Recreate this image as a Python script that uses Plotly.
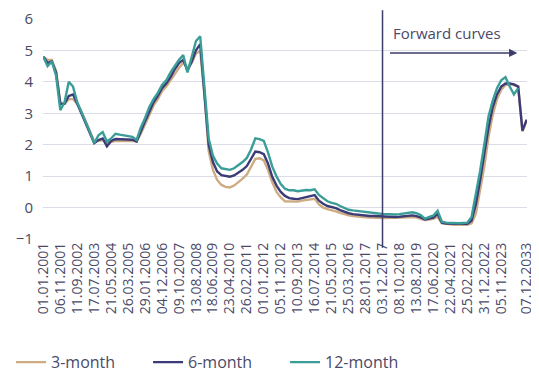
import plotly.graph_objects as go

# Tick labels (category axis labels, one every 4 samples; last one 1.5 intervals later)
TICK_LABELS = ["01.01.2001", "06.11.2001", "11.09.2002", "17.07.2003", "21.05.2004",
               "26.03.2005", "29.01.2006", "04.12.2006", "09.10.2007", "13.08.2008",
               "18.06.2009", "23.04.2010", "26.02.2011", "01.01.2012", "05.11.2012",
               "10.09.2013", "16.07.2014", "21.05.2015", "25.03.2016", "28.01.2017",
               "03.12.2017", "08.10.2018", "13.08.2019", "17.06.2020", "22.04.2021",
               "25.02.2022", "31.12.2022", "05.11.2023", "07.12.2033"]
TICK_POS = list(range(28)) + [28.5]
FORWARD_START = 20  # index of 03.12.2017

m3 = [4.80, 4.70, 4.70, 4.35, 3.35, 3.30, 3.45, 3.45, 3.30, 3.05, 2.75, 2.40, 2.10, 2.12, 2.15, 2.05,
      2.08, 2.12, 2.12, 2.12, 2.13, 2.13, 2.12, 2.35, 2.65, 2.95, 3.25, 3.45, 3.70, 3.85, 4.05, 4.25,
      4.45, 4.60, 4.45, 4.60, 4.90, 4.98, 3.60, 1.80, 1.20, 0.88, 0.72, 0.66, 0.64, 0.70, 0.80, 0.92,
      1.05, 1.30, 1.55, 1.57, 1.50, 1.20, 0.80, 0.50, 0.32, 0.20, 0.20, 0.19, 0.19, 0.22, 0.24, 0.26,
      0.28, 0.10, 0.00, -0.05, -0.08, -0.12, -0.17, -0.22, -0.25, -0.27, -0.29, -0.30, -0.31, -0.32, -0.33, -0.33,
      -0.33, -0.33, -0.33, -0.33, -0.32, -0.32, -0.31, -0.30, -0.31, -0.36, -0.40, -0.38, -0.36, -0.30, -0.50, -0.52,
      -0.54, -0.55, -0.55, -0.55, -0.55, -0.50, -0.20, 0.55, 1.30, 2.25, 2.95, 3.45, 3.75, 3.90, 3.92, 3.90,
      3.85, 2.42, 2.75]

m6 = [4.80, 4.60, 4.65, 4.30, 3.30, 3.30, 3.55, 3.60, 3.30, 3.00, 2.70, 2.35, 2.05, 2.15, 2.20, 1.95,
      2.12, 2.18, 2.18, 2.18, 2.17, 2.16, 2.10, 2.45, 2.75, 3.05, 3.35, 3.55, 3.80, 3.95, 4.15, 4.40,
      4.60, 4.70, 4.35, 4.65, 5.00, 5.20, 3.70, 2.00, 1.45, 1.15, 1.03, 1.00, 0.98, 1.02, 1.10, 1.20,
      1.32, 1.55, 1.78, 1.76, 1.70, 1.40, 0.98, 0.70, 0.50, 0.37, 0.30, 0.28, 0.27, 0.30, 0.33, 0.36,
      0.40, 0.22, 0.12, 0.05, 0.02, -0.02, -0.08, -0.14, -0.18, -0.21, -0.23, -0.25, -0.26, -0.27, -0.27, -0.28,
      -0.28, -0.29, -0.30, -0.30, -0.29, -0.28, -0.26, -0.25, -0.27, -0.31, -0.38, -0.35, -0.32, -0.20, -0.48, -0.51,
      -0.52, -0.52, -0.52, -0.52, -0.52, -0.42, 0.10, 0.85, 1.65, 2.55, 3.20, 3.60, 3.85, 3.95, 3.95, 3.92,
      3.85, 2.45, 2.80]

m12 = [4.80, 4.50, 4.65, 4.20, 3.10, 3.35, 4.00, 3.85, 3.35, 3.05, 2.75, 2.40, 2.05, 2.30, 2.40, 2.10,
       2.20, 2.35, 2.32, 2.30, 2.28, 2.25, 2.15, 2.55, 2.85, 3.20, 3.45, 3.65, 3.90, 4.05, 4.30, 4.50,
       4.70, 4.85, 4.30, 4.80, 5.30, 5.45, 3.80, 2.20, 1.65, 1.40, 1.25, 1.22, 1.20, 1.25, 1.35, 1.45,
       1.58, 1.85, 2.20, 2.18, 2.12, 1.75, 1.30, 0.99, 0.75, 0.60, 0.55, 0.55, 0.52, 0.55, 0.56, 0.55,
       0.58, 0.40, 0.30, 0.20, 0.15, 0.12, 0.05, 0.00, -0.07, -0.09, -0.11, -0.12, -0.14, -0.16, -0.17, -0.19,
       -0.20, -0.21, -0.22, -0.22, -0.21, -0.19, -0.16, -0.15, -0.18, -0.24, -0.35, -0.30, -0.25, -0.10, -0.45, -0.48,
       -0.49, -0.49, -0.50, -0.49, -0.48, -0.30, 0.40, 1.15, 2.00, 2.90, 3.40, 3.80, 4.05, 4.15, 3.85, 3.60,
       3.80, None, None]

STEP = 0.25  # samples per tick-label interval: 4
x = [i * STEP for i in range(len(m3))]

TXT = "#4a4a68"
series = [("3-month", m3, "#cdac82"), ("6-month", m6, "#3b3b78"), ("12-month", m12, "#3b9d97")]

fig = go.Figure()
for name, vals, col in series:
    fig.add_trace(go.Scatter(x=x, y=vals, mode="lines", name=name,
                             line=dict(color=col, width=2.4), connectgaps=False))

fig.add_shape(type="line", xref="x", yref="paper", x0=FORWARD_START, x1=FORWARD_START,
              y0=-0.04, y1=1.04, line=dict(color="#3d3d6b", width=1.5))
fig.add_annotation(x=27.95, y=4.92, ax=20.35, ay=4.92, xref="x", yref="y", axref="x", ayref="y",
                   text="", showarrow=True, arrowhead=2, arrowsize=1.1, arrowwidth=1.5,
                   arrowcolor="#3d3d6b")
fig.add_annotation(x=20.5, y=5.57, xref="x", yref="y", text="Forward curves", showarrow=False,
                   xanchor="left", yanchor="middle", font=dict(size=15, color=TXT))

# page body has an 8px margin; figure is sized so the plot lands where the reference has it
fig.update_layout(
    width=531, height=366, autosize=False,
    margin=dict(l=35, r=12, t=11, b=135, autoexpand=False),
    paper_bgcolor="white", plot_bgcolor="white",
    font=dict(family="Open Sans, Noto Sans, sans-serif", color=TXT),
    showlegend=True,
    legend=dict(orientation="h", x=-0.066, xanchor="left", y=-0.56, yanchor="middle",
                font=dict(size=16, color=TXT), entrywidth=92, entrywidthmode="pixels",
                bgcolor="rgba(0,0,0,0)"),
    xaxis=dict(range=[-0.02, 28.52], tickmode="array", tickvals=TICK_POS, ticktext=TICK_LABELS,
               tickangle=-90, tickfont=dict(size=14, color=TXT), showgrid=False,
               zeroline=False, showline=False, ticks="", automargin=False),
    yaxis=dict(range=[-1, 6], dtick=1, tick0=0, showgrid=True, gridcolor="#dcdce9", gridwidth=1,
               zeroline=False, showline=False, ticks="", tickfont=dict(size=15, color=TXT),
               ticklabelstandoff=9, automargin=False),
)

fig.write_html("out.html")
